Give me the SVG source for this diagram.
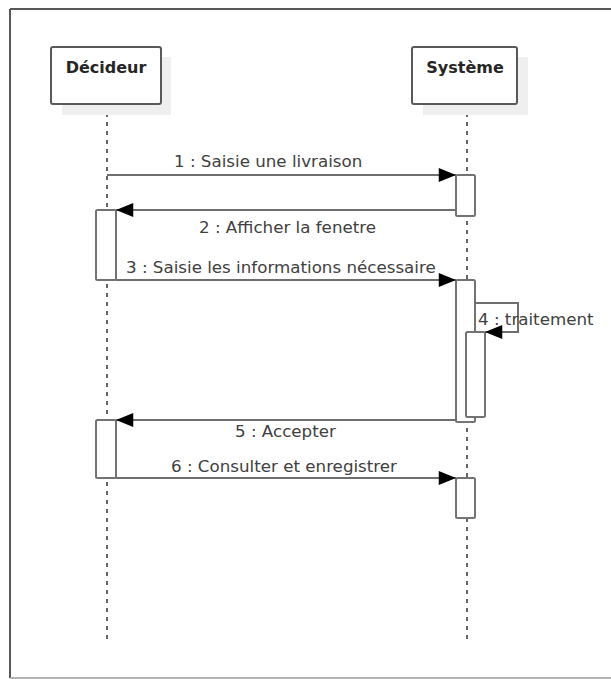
<svg xmlns="http://www.w3.org/2000/svg" width="611" height="679" viewBox="0 0 611 679">
<style>
.frame{fill:none;stroke:#595959;stroke-width:2}
.shadow{fill:#efefef;stroke:none}
.box{fill:#ffffff;stroke:#595959;stroke-width:2}
.title{font-family:"DejaVu Sans",sans-serif;font-weight:bold;font-size:16px;fill:#262626;text-anchor:middle}
.life{stroke:#333333;stroke-width:1.5;stroke-dasharray:4 5;fill:none}
.act{fill:#ffffff;stroke:#737373;stroke-width:2}
.msg{fill:none;stroke:#6e6e6e;stroke-width:2}
.lbl{font-family:"DejaVu Sans",sans-serif;font-size:16.7px;fill:#404040}
</style>
<defs>
<marker id="arr" markerUnits="userSpaceOnUse" markerWidth="18" markerHeight="14" viewBox="0 0 16 13" refX="16" refY="6.5" orient="auto">
<path d="M0,0 L16,6.5 L0,13 Z" fill="#000000"/>
</marker>
</defs>
<rect x="0" y="0" width="611" height="679" fill="#ffffff"/>
<g id="frame">
<line x1="10" y1="9" x2="611" y2="9" class="frame"/>
<line x1="10" y1="9" x2="10" y2="678" class="frame"/>
<line x1="10" y1="678" x2="611" y2="678" stroke="#9a9a9a" stroke-width="1.5"/>
</g>
<g id="lifelines">
<line x1="107" y1="104" x2="107" y2="640" class="life"/>
<line x1="467" y1="104" x2="467" y2="640" class="life"/>
</g>
<g id="decideur">
<rect x="62" y="57" width="109" height="58" class="shadow"/>
<rect x="51" y="47" width="110" height="57" rx="2" class="box"/>
<text x="106" y="73" class="title">Décideur</text>
</g>
<g id="systeme">
<rect x="423" y="57" width="105" height="58" class="shadow"/>
<rect x="412" y="47" width="105" height="57" rx="2" class="box"/>
<text x="465" y="73" class="title">Système</text>
</g>
<g id="activations">
<rect id="act-s1" x="456" y="175" width="19" height="41" rx="1.5" class="act"/>
<rect id="act-d1" x="96" y="210" width="20" height="70" rx="1.5" class="act"/>
<rect id="act-s2" x="456" y="280" width="19" height="142" rx="1.5" class="act"/>
<rect id="act-s3" x="466" y="332" width="19" height="85" rx="1.5" class="act"/>
<rect id="act-d2" x="96" y="420" width="20" height="58" rx="1.5" class="act"/>
<rect id="act-s4" x="456" y="478" width="19" height="40" rx="1.5" class="act"/>
</g>
<g id="connectors">
<line x1="107" y1="175" x2="456" y2="175" class="msg" marker-end="url(#arr)"/>
<line x1="456" y1="210" x2="116" y2="210" class="msg" marker-end="url(#arr)"/>
<line x1="116" y1="280" x2="456" y2="280" class="msg" marker-end="url(#arr)"/>
<path d="M475,303 L518,303 L518,332 L485,332" class="msg" marker-end="url(#arr)"/>
<line x1="456" y1="420" x2="116" y2="420" class="msg" marker-end="url(#arr)"/>
<line x1="116" y1="478" x2="456" y2="478" class="msg" marker-end="url(#arr)"/>
</g>
<g id="labels">
<text x="174" y="167" class="lbl">1 : Saisie une livraison</text>
<text x="199" y="233" class="lbl">2 : Afficher la fenetre</text>
<text x="126" y="273" class="lbl">3 : Saisie les informations nécessaire</text>
<text x="478" y="325" class="lbl">4 : traitement</text>
<text x="235" y="437" class="lbl">5 : Accepter</text>
<text x="171" y="472" class="lbl">6 : Consulter et enregistrer</text>
</g>
</svg>
